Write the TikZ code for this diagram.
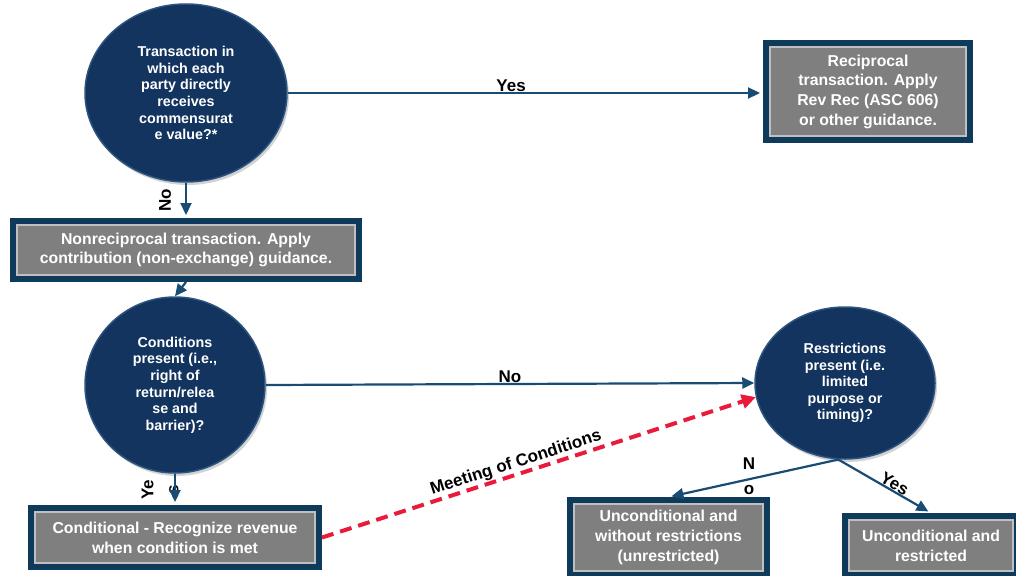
\documentclass[tikz,border=0pt]{standalone}
\usepackage{fontspec}
\setmainfont{Liberation Sans}
\usepackage{tikz}
\usetikzlibrary{arrows.meta,shapes.geometric,shadows,positioning}
\definecolor{navyfill}{RGB}{18,52,94}
\definecolor{navyrim}{RGB}{44,84,128}
\definecolor{boxedge}{RGB}{14,58,92}
\definecolor{boxgray}{RGB}{127,127,127}
\definecolor{boxline}{RGB}{192,192,192}
\definecolor{flowblue}{RGB}{24,76,116}
\definecolor{meetred}{RGB}{233,26,60}
\tikzset{
	decision/.style = {
			ellipse,
			fill       = navyfill,
			draw       = navyrim,
			line width = 1.5pt,
			inner sep  = 0pt,
			align      = center,
			text       = white,
			font       = \fontsize{14.3}{16.6}\selectfont\bfseries,
			drop shadow = {shadow xshift=2pt, shadow yshift=-3pt, opacity=0.35},
		},
	outcome/.style = {
			rectangle,
			fill       = boxgray,
			draw       = boxedge,
			line width = 6pt,
			inner sep  = 0pt,
			align      = center,
			text       = white,
			font       = \fontsize{15.8}{19.7}\selectfont\bfseries,
			drop shadow = {shadow xshift=3pt, shadow yshift=-3pt, opacity=0.3},
			path picture = {
					\draw[boxline, line width=1.2pt]
					([shift={(4pt,4pt)}]path picture bounding box.south west) rectangle
					([shift={(-4pt,-4pt)}]path picture bounding box.north east);
				},
		},
	lbl/.style = {
			font      = \fontsize{17}{25}\selectfont\bfseries,
			text      = black,
			inner sep = 1pt,
		},
	flow/.style = {
			draw       = flowblue,
			line width = 2.2pt,
			-{Triangle[length=12pt,width=11pt]},
		},
	meet/.style = {
			draw          = meetred,
			line width    = 4pt,
			dash pattern  = on 12pt off 7pt,
			-{Triangle[length=14pt,width=14pt]},
		},
	tobox/.style = {shorten >=3pt},
}

\begin{document}
\begin{tikzpicture}[x=1pt,y=-1pt]
		\useasboundingbox (0,0) rectangle (1016,575);

		\node[decision, minimum width=202, minimum height=178] at (186,93) (commens)
		{Transaction in\\which each\\party directly\\receives\\commensurat\\e value?*};
		\node[decision, minimum width=180, minimum height=176] at (175,385) (cond)
		{Conditions\\present (i.e.,\\right of\\return/relea\\se and\\barrier)?};
		\node[decision, minimum width=180, minimum height=152] at (845,383) (restr)
		{Restrictions\\present (i.e.\\limited\\purpose or\\timing)?};

		\node[outcome, minimum width=204, minimum height=97] at (868,91.5) (recip)
		{Reciprocal\\transaction. Apply\\Rev Rec (ASC 606)\\or other guidance.};
		\node[outcome, minimum width=346, minimum height=58] at (186,250) (nonrecip)
		{Nonreciprocal transaction. Apply\\contribution (non-exchange) guidance.};
		\node[outcome, minimum width=288, minimum height=59] at (175,537.5) (condrev)
		{Conditional - Recognize revenue\\when condition is met};
		\node[outcome, minimum width=197, minimum height=75] at (668.5,537.5) (unrestr)
		{Unconditional and\\without restrictions\\(unrestricted)};
		\node[outcome, minimum width=172, minimum height=59] at (931,545.5) (restricted)
		{Unconditional and\\restricted};

		\node[lbl, rotate=90] at (165,200) (no1) {No};
		\node[lbl, rotate=90, align=center] at (160,490) (yes2) {Ye\\s};
		\node[lbl, align=center] at (749,476) (no3) {N\\o};

		\draw[flow, tobox] (commens.east) -- (commens.east -| recip.west)
		node[lbl, above, pos=0.47, inner sep=0pt] {Yes};
		\draw[flow, tobox] (commens.south) -- (nonrecip.north);
		\draw[flow] (nonrecip.south) -- (cond.north);
		\draw[flow] (cond.east) -- (restr.west)
		node[lbl, above, pos=0.5, inner sep=0pt] {No};
		\draw[flow, tobox] (cond.south) -- (condrev.north);
		\draw[meet] (condrev.east) -- (restr.189)
		node[lbl, sloped, above, pos=0.455, inner sep=1pt] {Meeting of Conditions};
		\draw[flow, tobox] (restr.265) -- (unrestr.north);
		\draw[flow, tobox] (restr.265) -- (restricted.north)
		node[lbl, sloped, above, pos=0.57, inner sep=0pt] {Yes};
	\end{tikzpicture}
\end{document}
